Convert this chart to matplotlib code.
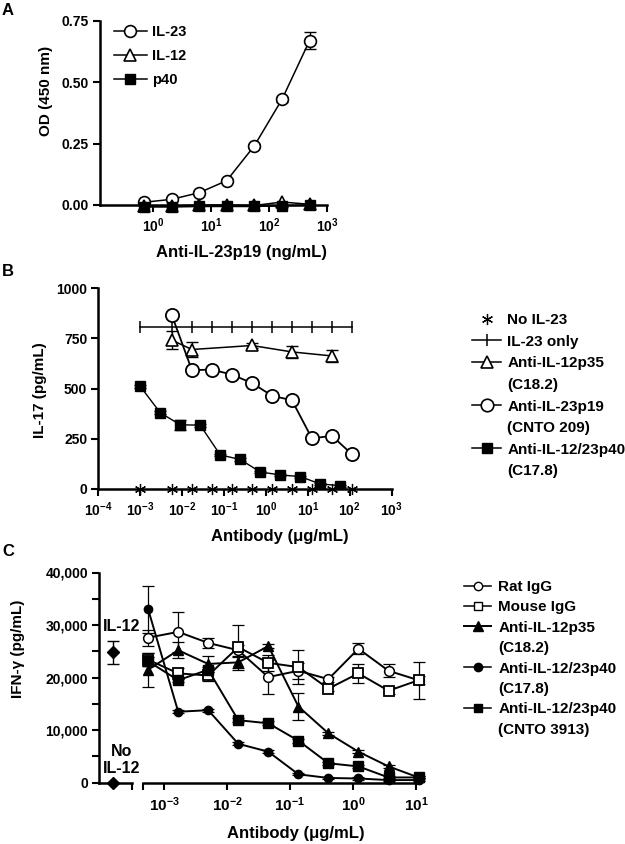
import numpy as np
import matplotlib
matplotlib.use('Agg')
import matplotlib.pyplot as plt
from matplotlib.lines import Line2D
from matplotlib.ticker import FixedLocator, NullLocator, MultipleLocator

plt.rcParams['font.family'] = ['Liberation Sans', 'DejaVu Sans']
plt.rcParams['font.weight'] = 'bold'
plt.rcParams['mathtext.fontset'] = 'custom'
plt.rcParams['mathtext.rm'] = 'Liberation Sans:bold'
plt.rcParams['mathtext.bf'] = 'Liberation Sans:bold'
plt.rcParams['mathtext.it'] = 'Liberation Sans:bold:italic'
plt.rcParams['mathtext.sf'] = 'Liberation Sans'

# ---------------- Panel A data ----------------
conc_A = [0.686, 2.06, 6.17, 18.5, 55.6, 167, 500]
il23_A = [0.011, 0.023, 0.050, 0.099, 0.241, 0.430, 0.669]
il23_A_err = [0.004, 0.004, 0.005, 0.006, 0.008, 0.010, 0.033]
il12_A = [-0.004, -0.004, 0.0, 0.0, -0.002, 0.012, 0.003]
p40_A = [-0.008, -0.008, -0.006, -0.006, -0.006, -0.003, 0.0]
yticks_A = [0.0, 0.25, 0.50, 0.75]
yticklabels_A = ['0.00', '0.25', '0.50', '0.75']
xticks_A = [1, 10, 100, 1000]
xticklabels_A = [r'$10^{0}$', r'$10^{1}$', r'$10^{2}$', r'$10^{3}$']

# ---------------- Panel B data ----------------
x_B = [0.001, 0.0057, 0.0171, 0.0514, 0.154, 0.463, 1.39, 4.17, 12.5, 37.5, 112.5]
noil23_B = [0] * 11
il23only_B = [808] * 11
p35_x_B = [0.0057, 0.0171, 0.463, 4.17, 37.5]
p35_B = [742, 695, 715, 683, 663]
p35_err_B = [45, 35, 10, 30, 28]
p19_x_B = [0.0057, 0.0171, 0.0514, 0.154, 0.463, 1.39, 4.17, 12.5, 37.5, 112.5]
p19_B = [865, 592, 595, 570, 528, 465, 442, 252, 265, 173]
p40_x_B = [0.001, 0.003, 0.009, 0.027, 0.081, 0.243, 0.729, 2.19, 6.56, 19.7, 59]
p40_B = [512, 380, 320, 318, 170, 147, 85, 70, 62, 25, 17]
p40_err_B = [8, 8, 25, 8, 6, 6, 5, 5, 5, 5, 5]
yticks_B = [0, 250, 500, 750, 1000]
xticks_B = [1e-4, 1e-3, 1e-2, 1e-1, 1, 10, 100, 1000]
xticklabels_B = [r'$10^{-4}$', r'$10^{-3}$', r'$10^{-2}$', r'$10^{-1}$',
                 r'$10^{0}$', r'$10^{1}$', r'$10^{2}$', r'$10^{3}$']

# ---------------- Panel C data ----------------
x_C = [0.00056, 0.00168, 0.00503, 0.0151, 0.0453, 0.136, 0.407, 1.22, 3.67, 11.0]
rat_C = [27600, 28700, 26600, 25200, 20100, 21300, 19700, 25500, 21300, 19500]
rat_err_C = [1500, 3800, 1000, 1000, 3300, 1500, 500, 1000, 1200, 800]
mouse_C = [23400, 20800, 20400, 25800, 22800, 22000, 17900, 20800, 17500, 19500]
mouse_err_C = [1200, 1000, 1000, 4300, 1500, 3200, 500, 1800, 700, 3500]
p35_C = [21500, 25200, 22600, 22900, 26000, 14500, 9400, 5900, 3100, 1000]
p35_err_C = [3200, 1500, 1500, 1000, 400, 2500, 300, 300, 300, 200]
c178_C = [33000, 13500, 13800, 7400, 5900, 1600, 900, 800, 500, 500]
c178_err_C = [4500, 300, 300, 300, 300, 200, 200, 200, 200, 200]
cnto_C = [23100, 19500, 21500, 11900, 11300, 8000, 3700, 3100, 1000, 1000]
cnto_err_C = [800, 300, 500, 400, 400, 400, 300, 300, 200, 200]
ctrl_labels_C = ['IL-12', 'No\nIL-12']
ctrl_vals_C = [24800, 0]
ctrl_err_C = [2200, 0]
yticks_C = [0, 10000, 20000, 30000, 40000]
yticklabels_C = ['0', '10,000', '20,000', '30,000', '40,000']
xticks_C = [1e-3, 1e-2, 1e-1, 1, 10]
xticklabels_C = [r'$\mathsf{10^{-3}}$', r'$\mathsf{10^{-2}}$', r'$\mathsf{10^{-1}}$',
                 r'$\mathsf{10^{0}}$', r'$\mathsf{10^{1}}$']

W, H = 625, 844
fig = plt.figure(figsize=(W / 100, H / 100), dpi=100)


def rect(l, t, r, b):
    return [l / W, 1 - b / H, (r - l) / W, (b - t) / H]


SPW = 1.8
TICKFS = 10
AST = (6, 2, 0)


def style(ax, left=True):
    for s in ['top', 'right']:
        ax.spines[s].set_visible(False)
    ax.spines['left'].set_linewidth(SPW)
    ax.spines['bottom'].set_linewidth(SPW)
    ax.tick_params(direction='out', length=5, width=1.5, labelsize=TICKFS, pad=3)
    ax.tick_params(which='minor', direction='out', length=5, width=1.5)
    for lab in ax.get_xticklabels() + ax.get_yticklabels():
        lab.set_fontweight('bold')


def unclip(container):
    for ch in container.get_children():
        ch.set_clip_on(False)


# ================= Panel A =================
axA = fig.add_axes(rect(100, 20.7, 327, 205))
axA.set_xscale('log')
axA.set_xlim(0.1197, 1000)
axA.set_ylim(0, 0.75)
eb = axA.errorbar(conc_A, il23_A, yerr=il23_A_err, fmt='none', ecolor='k',
                  elinewidth=1, capsize=4, capthick=1, zorder=2)
unclip(eb)
axA.plot(conc_A, il23_A, '-', color='k', lw=1.1, marker='o', ms=8.5, mfc='white',
         mec='k', mew=1.2, clip_on=False, zorder=3, label='IL-23')
axA.plot(conc_A, il12_A, '-', color='k', lw=1.1, marker='^', ms=8.5, mfc='white',
         mec='k', mew=1.2, clip_on=False, zorder=3, label='IL-12')
axA.plot(conc_A, p40_A, '-', color='k', lw=1.1, marker='s', ms=7, mfc='k',
         mec='k', clip_on=False, zorder=4, label='p40')
axA.set_yticks(yticks_A)
axA.set_yticklabels(yticklabels_A)
axA.set_xticks(xticks_A)
axA.set_xticklabels(xticklabels_A)
axA.xaxis.set_minor_locator(NullLocator())
style(axA)
axA.set_xlabel('Anti-IL-23p19 (ng/mL)', fontsize=12, fontweight='bold')
axA.xaxis.set_label_coords(0.624, -0.215)
axA.set_ylabel('OD (450 nm)', fontsize=11, fontweight='bold')
axA.yaxis.set_label_coords(-0.205, 0.62)
legA = axA.legend(loc='upper left', bbox_to_anchor=(0.06, 0.975), frameon=False,
                  fontsize=10.5, handlelength=2.3, handletextpad=0.35,
                  labelspacing=0.68, borderpad=0, borderaxespad=0)
for t in legA.get_texts():
    t.set_fontweight('bold')
fig.text(2 / W, 1 - 3 / H, 'A', fontsize=12, fontweight='bold', va='top', ha='left')

# ================= Panel B =================
axB = fig.add_axes(rect(98.3, 288.3, 391.7, 489))
axB.set_xscale('log')
axB.set_xlim(1e-4, 1e3)
axB.set_ylim(0, 1000)
axB.plot(x_B, noil23_B, ls='none', marker=AST, ms=8, color='k', mew=0.9,
         clip_on=False, zorder=3)
axB.plot(x_B, il23only_B, '-', color='k', lw=1.1, marker='|', ms=8, mew=1.1, zorder=2)
eb = axB.errorbar(p35_x_B, p35_B, yerr=p35_err_B, fmt='none', ecolor='k',
                  elinewidth=1, capsize=4, capthick=1, zorder=2)
axB.plot(p35_x_B, p35_B, '-', color='k', lw=1.1, marker='^', ms=9, mfc='white',
         mec='k', mew=1.2, zorder=3)
axB.plot(p19_x_B, p19_B, '-', color='k', lw=1.3, marker='o', ms=9.5, mfc='white',
         mec='k', mew=1.3, zorder=3)
eb = axB.errorbar(p40_x_B, p40_B, yerr=p40_err_B, fmt='none', ecolor='k',
                  elinewidth=1, capsize=4, capthick=1, zorder=2)
axB.plot(p40_x_B, p40_B, '-', color='k', lw=1.0, marker='s', ms=7, mfc='k',
         mec='k', zorder=4)
axB.set_yticks(yticks_B)
axB.set_xticks(xticks_B)
axB.set_xticklabels(xticklabels_B)
axB.xaxis.set_minor_locator(NullLocator())
style(axB)
axB.set_xlabel('Antibody (μg/mL)', fontsize=12, fontweight='bold')
axB.xaxis.set_label_coords(0.619, -0.2)
axB.set_ylabel('IL-17 (pg/mL)', fontsize=11, fontweight='bold')
axB.yaxis.set_label_coords(-0.175, 0.493)

blank = Line2D([], [], ls='none', marker=None)
hB = [Line2D([], [], ls='none', marker=AST, ms=8, color='k', mew=0.9),
      Line2D([], [], color='k', lw=1.1, marker='|', ms=8, mew=1.1),
      Line2D([], [], color='k', lw=1.1, marker='^', ms=9, mfc='white', mec='k', mew=1.2),
      blank,
      Line2D([], [], color='k', lw=1.1, marker='o', ms=9, mfc='white', mec='k', mew=1.2),
      blank,
      Line2D([], [], color='k', lw=1.1, marker='s', ms=7, mfc='k', mec='k'),
      blank]
lB = ['No IL-23', 'IL-23 only', 'Anti-IL-12p35', '(C18.2)', 'Anti-IL-23p19',
      '(CNTO 209)', 'Anti-IL-12/23p40', '(C17.8)']
legB = fig.legend(hB, lB, loc='upper left', bbox_to_anchor=(472 / W, 1 - 313 / H),
                  frameon=False, fontsize=11, handlelength=1.9, handletextpad=0.4,
                  labelspacing=0.5, borderpad=0, borderaxespad=0)
for t in legB.get_texts():
    t.set_fontweight('bold')
fig.text(2 / W, 1 - 264 / H, 'B', fontsize=12, fontweight='bold', va='top', ha='left')

# ================= Panel C =================
axCL = fig.add_axes(rect(99.3, 572.5, 131.7, 782.7))
axC = fig.add_axes(rect(143.3, 572.5, 420, 782.7), sharey=axCL)
axCL.set_xlim(0, 1)
axCL.set_ylim(0, 40000)
ctrl_x = [0.41, 0.41]
eb = axCL.errorbar(ctrl_x, ctrl_vals_C, yerr=ctrl_err_C, fmt='none', ecolor='k',
                   elinewidth=1, capsize=4, capthick=1, zorder=2)
axCL.plot(ctrl_x, ctrl_vals_C, ls='none', marker='D', ms=6, color='k',
          clip_on=False, zorder=3)
axCL.text(0.7, 29800, ctrl_labels_C[0], ha='center', va='center', fontsize=11.5,
          fontweight='bold', clip_on=False)
axCL.text(0.7, 4300, ctrl_labels_C[1], ha='center', va='center', fontsize=11.5,
          fontweight='bold', clip_on=False, linespacing=1.15)
axCL.set_xticks([1])
axCL.set_xticklabels([''])
axCL.set_yticks(yticks_C)
axCL.set_yticklabels(yticklabels_C)
axCL.yaxis.set_minor_locator(MultipleLocator(5000))
style(axCL)
axCL.set_ylabel('IFN-γ (pg/mL)', fontsize=11, fontweight='bold')
axCL.yaxis.set_label_coords(-2.3, 0.636)

axC.set_xscale('log')
axC.set_xlim(4.69e-4, 11.6)
series_C = [
    (rat_C, rat_err_C, dict(marker='o', ms=7, mfc='white', mec='k', mew=1.1)),
    (mouse_C, mouse_err_C, dict(marker='s', ms=7, mfc='white', mec='k', mew=1.3)),
    (p35_C, p35_err_C, dict(marker='^', ms=6.5, mfc='k', mec='k')),
    (c178_C, c178_err_C, dict(marker='o', ms=6, mfc='k', mec='k')),
    (cnto_C, cnto_err_C, dict(marker='s', ms=6.5, mfc='k', mec='k')),
]
for i, (vals, errs, mk) in enumerate(series_C):
    e = axC.errorbar(x_C, vals, yerr=errs, fmt='none', ecolor='k', elinewidth=0.9,
                     capsize=4, capthick=0.9, zorder=2)
    unclip(e)
    axC.plot(x_C, vals, '-', color='k', lw=1.4, clip_on=False, zorder=3 + i * 0.1, **mk)
axC.spines['left'].set_visible(False)
axC.spines['top'].set_visible(False)
axC.spines['right'].set_visible(False)
axC.spines['bottom'].set_linewidth(SPW)
axC.tick_params(axis='y', which='both', left=False, labelleft=False)
axC.set_xticks([4.69e-4] + xticks_C)
axC.set_xticklabels([''] + xticklabels_C)
axC.xaxis.set_minor_locator(NullLocator())
axC.tick_params(axis='x', direction='out', length=5, width=1.5, labelsize=11, pad=4)
axC.set_xlabel('Antibody (μg/mL)', fontsize=12, fontweight='bold')
axC.xaxis.set_label_coords(0.551, -0.205)

hC = [Line2D([], [], color='k', lw=1.1, marker='o', ms=6, mfc='white', mec='k', mew=1),
      Line2D([], [], color='k', lw=1.1, marker='s', ms=6, mfc='white', mec='k', mew=1),
      Line2D([], [], color='k', lw=1.4, marker='^', ms=7, mfc='k', mec='k'),
      blank,
      Line2D([], [], color='k', lw=1.1, marker='o', ms=6, mfc='k', mec='k'),
      blank,
      Line2D([], [], color='k', lw=1.1, marker='s', ms=6, mfc='k', mec='k'),
      blank]
lC = ['Rat IgG', 'Mouse IgG', 'Anti-IL-12p35', '(C18.2)', 'Anti-IL-12/23p40',
      '(C17.8)', 'Anti-IL-12/23p40', '(CNTO 3913)']
legC = fig.legend(hC, lC, loc='upper left', bbox_to_anchor=(464 / W, 1 - 580 / H),
                  frameon=False, fontsize=11, handlelength=1.8, handletextpad=0.45,
                  labelspacing=0.42, borderpad=0, borderaxespad=0)
for t in legC.get_texts():
    t.set_fontweight('bold')
fig.text(2 / W, 1 - 544 / H, 'C', fontsize=12, fontweight='bold', va='top', ha='left')

fig.savefig('out.png', dpi=100)
